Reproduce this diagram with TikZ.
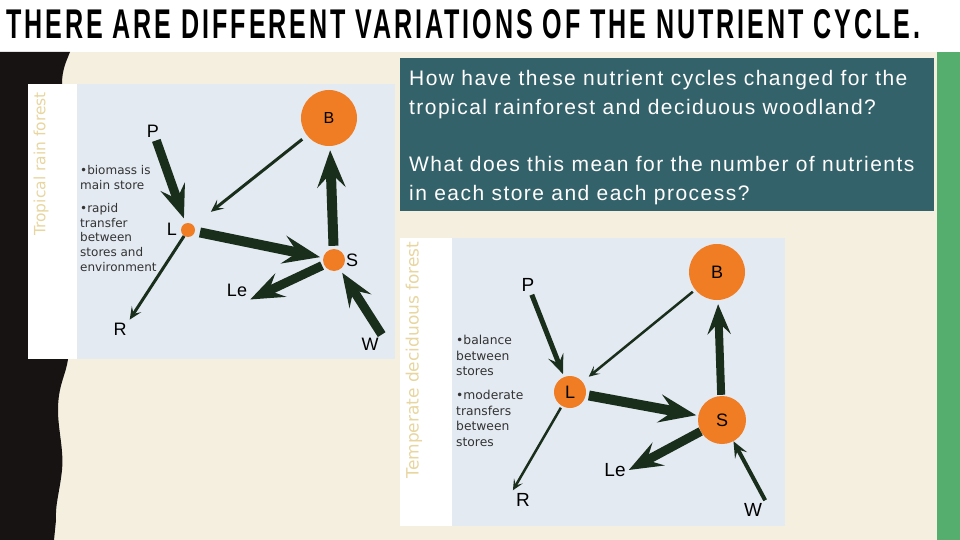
\documentclass[tikz,border=0pt]{standalone}
\usepackage{fontspec}
\usepackage{graphicx}
\setmainfont{Liberation Sans}
\newfontfamily\verd{DejaVu Sans}
\newfontfamily\titlefont[FakeStretch=0.6,LetterSpace=7]{Liberation Sans}
\newfontfamily\qfont[LetterSpace=7]{Liberation Sans}
\usetikzlibrary{arrows.meta}
\definecolor{beige}{HTML}{F5EFE0}
\definecolor{greenbar}{HTML}{55AE6E}
\definecolor{blackbar}{HTML}{171312}
\definecolor{tealbox}{HTML}{34626A}
\definecolor{panelb}{HTML}{E3EAF2}
\definecolor{nodeor}{HTML}{F07D23}
\definecolor{arrowc}{HTML}{1A2E1C}
\definecolor{tanlab}{HTML}{E8D6A0}
\definecolor{notec}{HTML}{333333}
\begin{document}
\begin{tikzpicture}[x=1pt,y=-1pt,
    store/.style={circle,fill=nodeor,inner sep=0pt,minimum size=#1},
    lab/.style={font=\fontsize{18}{18}\selectfont,inner sep=3pt},
    flow/.style={draw=arrowc,line width=#1,
      -{Stealth[length=2pt 3.5,width=4pt 2.4,inset=2pt 1.2]}},
    note/.style={font=\verd\fontsize{12}{14.7}\selectfont,text=notec,
      align=left,anchor=north west,inner sep=0pt},
    side/.style={rotate=90,text=tanlab,font=\verd\fontsize{15.5}{15.5}\selectfont}]
  \useasboundingbox (0,0) rectangle (960,540);
  % background
  \fill[white] (0,0) rectangle (960,540);
  \fill[beige] (0,52) rectangle (937,540);
  \fill[greenbar] (937,52) rectangle (960,540);
  \fill[blackbar] (0,52) -- (70,52) .. controls (66,62) and (62,70) .. (62,84)
    -- (68,359) .. controls (66,375) and (58,385) .. (58,410)
    .. controls (58,430) and (64,450) .. (62,470)
    .. controls (60,490) and (55,505) .. (56,520) -- (54,540) -- (0,540) -- cycle;
  \node[anchor=north west,inner sep=0pt] (title) at (6,9)
    {\resizebox{914pt}{29pt}{\titlefont\bfseries THERE ARE DIFFERENT VARIATIONS OF THE NUTRIENT CYCLE.}};
  % question box
  \fill[tealbox] (400,58) rectangle (934,211);
  \node[anchor=north west,text=white,font=\qfont\fontsize{21}{29}\selectfont,
    align=left,inner sep=0pt] (question) at (409,70)
    {How have these nutrient cycles changed for the\\
     tropical rainforest and deciduous woodland?\\[28pt]
     What does this mean for the number of nutrients\\
     in each store and each process?};
  % tropical rain forest
  \fill[white] (28,84) rectangle (395,359);
  \fill[panelb] (77,84) rectangle (395,359);
  \node[side] (trf) at (41,164) {Tropical rain forest};
  \node[store=56pt,lab,font=\fontsize{16}{16}\selectfont] (B1) at (329,118) {B};
  \node[store=14pt] (L1) at (188,230) {};
  \node[store=22pt] (S1) at (334,260) {};
  \node[lab] (l1) at (172,229) {L};
  \node[lab] (s1) at (352,260) {S};
  \node[lab] (P1) at (153,131) {P};
  \node[lab] (Le1) at (237,290) {Le};
  \node[lab] (R1) at (120,329) {R};
  \node[lab] (W1) at (370,344) {W};
  \node[note] (n1) at (80,165) {•biomass is\\main store};
  \node[note] (n2) at (80,203) {•rapid\\transfer\\between\\stores and\\environment};
  \draw[flow=9pt,shorten >=5pt] (P1) -- (L1);
  \draw[flow=3pt,shorten <=6pt,shorten >=22pt] (B1) -- (L1);
  \draw[flow=10pt,shorten <=5pt,shorten >=3pt] (L1) -- (S1);
  \draw[flow=10pt,shorten <=3pt,shorten >=4pt] (S1) -- (B1);
  \draw[flow=9pt,shorten <=2pt] (S1) -- (Le1.south east);
  \draw[flow=3pt] (L1) -- (R1.north east);
  \draw[flow=9pt,shorten >=4pt] (W1.north east) -- (S1);
  % temperate deciduous forest
  \fill[white] (400,238) rectangle (785,526);
  \fill[panelb] (452,238) rectangle (785,526);
  \node[side,font=\verd\fontsize{17}{17}\selectfont] (tdf) at (414,360) {Temperate deciduous forest};
  \node[store=56pt,lab] (B2) at (717,272) {B};
  \node[store=32pt,lab] (L2) at (570,392) {L};
  \node[store=48pt,lab] (S2) at (722,420) {S};
  \node[lab,font=\fontsize{19}{19}\selectfont] (P2) at (528,285) {P};
  \node[lab,font=\fontsize{19}{19}\selectfont] (Le2) at (615,470) {Le};
  \node[lab,font=\fontsize{19}{19}\selectfont] (R2) at (523,500) {R};
  \node[lab,font=\fontsize{19}{19}\selectfont] (W2) at (753,510) {W};
  \node[note,font=\verd\fontsize{12.3}{15.5}\selectfont] (n3) at (456,335) {•balance\\between\\stores};
  \node[note,font=\verd\fontsize{12.3}{15.5}\selectfont] (n4) at (456,390) {•moderate\\transfers\\between\\stores};
  \draw[flow=5pt,shorten >=3pt] (P2) -- (L2);
  \draw[flow=2.5pt,shorten <=3pt,shorten >=8pt] (B2) -- (L2);
  \draw[flow=10pt,shorten <=3pt,shorten >=2pt] (L2) -- (S2);
  \draw[flow=8pt,shorten <=1pt,shorten >=4pt] (S2) -- (B2);
  \draw[flow=9pt] (S2) -- (Le2.east);
  \draw[flow=2.5pt,shorten <=2pt] (L2) -- (R2.north west);
  \draw[flow=4pt] (W2.north east) -- (S2);
\end{tikzpicture}
\end{document}
